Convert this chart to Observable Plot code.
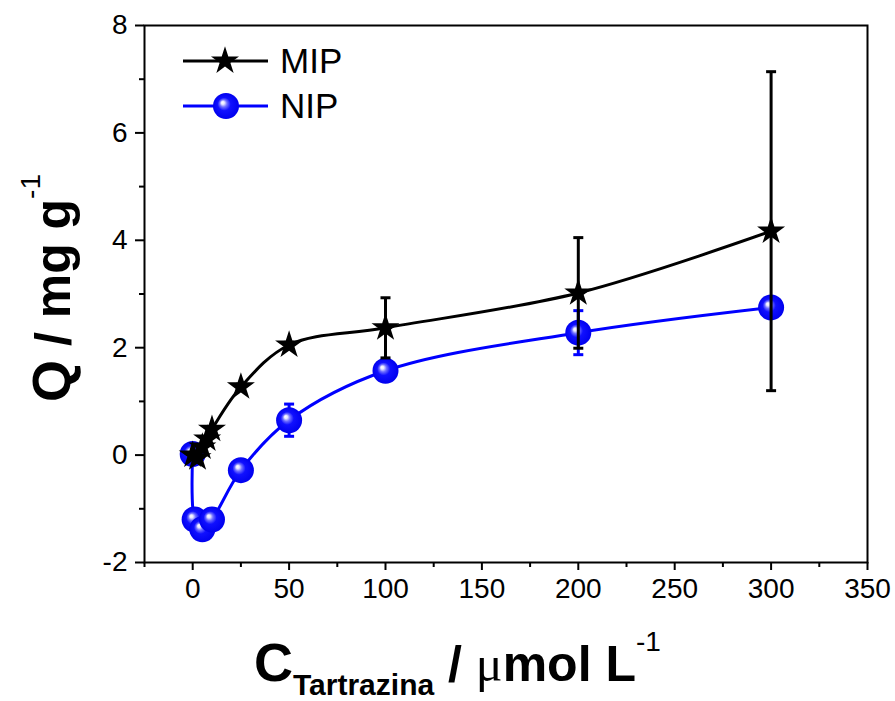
<!DOCTYPE html>
<html><head><meta charset="utf-8">
<script src="https://cdn.jsdelivr.net/npm/d3@7"></script>
<script src="https://cdn.jsdelivr.net/npm/@observablehq/plot@0.6"></script>
<style>
body{margin:0;background:#fff}
#chart{position:relative;width:895px;height:701px}
#chart svg text.tick-lbl{font-size:28px !important;}
</style>
</head><body><div id="chart"></div>
<script>
// ---- data ----
const mipX   = [0, 2.5, 5, 7.5, 10, 25, 50, 100, 200, 300];
const mipQ   = [0, -0.05, 0.15, 0.3, 0.48, 1.27, 2.05, 2.37, 3.02, 4.17];
const mipErr = [0, 0, 0, 0, 0, 0.05, 0.05, 0.56, 1.03, 2.97];

const nipX   = [0, 1, 5, 10, 25, 50, 100, 200, 300];
const nipQ   = [0.02, -1.2, -1.38, -1.2, -0.28, 0.65, 1.57, 2.28, 2.75];
const nipErr = [0, 0, 0, 0, 0.1, 0.3, 0.05, 0.41, 0];

const xMajor = [0, 50, 100, 150, 200, 250, 300, 350];
const xMinor = [-25, 25, 75, 125, 175, 225, 275, 325];
const yMajor = [-2, 0, 2, 4, 6, 8];
const yMinor = [-1, 1, 3, 5, 7];

const seriesNames = ["MIP", "NIP"];
const colors = {MIP: "#000000", NIP: "#0000ff"};

const mip = mipX.map((x, i) => ({x, q: mipQ[i], e: mipErr[i]}));
const nip = nipX.map((x, i) => ({x, q: nipQ[i], e: nipErr[i]}));

const cap = {draw(ctx) { ctx.moveTo(-5, 0); ctx.lineTo(5, 0); }};
const FONT = "'Liberation Sans', Arial, sans-serif";

const plot = Plot.plot({
  width: 895, height: 701,
  marginLeft: 144, marginRight: 28, marginTop: 25, marginBottom: 139,
  style: {fontFamily: FONT, fontSize: "28px", color: "#000", background: "#fff"},
  x: {domain: [-25, 350]},
  y: {domain: [-2, 8]},
  marks: [
    Plot.axisX({ticks: xMajor, tickSize: 8, tickPadding: 8, tickFormat: d => String(d), label: null, strokeWidth: 2, fontSize: 28}),
    Plot.axisX({ticks: xMinor, tickSize: 5, tickFormat: () => "", label: null, strokeWidth: 2}),
    Plot.axisY({ticks: yMajor, tickSize: 9, tickPadding: 8, tickFormat: d => String(d), label: null, strokeWidth: 2, fontSize: 28}),
    Plot.axisY({ticks: yMinor, tickSize: 5, tickFormat: () => "", label: null, strokeWidth: 2}),
    // NIP
    Plot.line(nip, {x: "x", y: "q", stroke: colors.NIP, strokeWidth: 3, curve: "catmull-rom"}),
    Plot.ruleX(nip.filter(d => d.e > 0), {x: "x", y1: d => d.q - d.e, y2: d => d.q + d.e, stroke: colors.NIP, strokeWidth: 3}),
    Plot.dot(nip.filter(d => d.e > 0), {x: "x", y: d => d.q + d.e, symbol: cap, stroke: colors.NIP, strokeWidth: 3, r: 5}),
    Plot.dot(nip.filter(d => d.e > 0), {x: "x", y: d => d.q - d.e, symbol: cap, stroke: colors.NIP, strokeWidth: 3, r: 5}),
    Plot.dot(nip, {x: "x", y: "q", r: 13, fill: "url(#ballGrad)", stroke: null}),
    // MIP
    Plot.line(mip, {x: "x", y: "q", stroke: colors.MIP, strokeWidth: 3, curve: "catmull-rom"}),
    Plot.ruleX(mip.filter(d => d.e > 0), {x: "x", y1: d => d.q - d.e, y2: d => d.q + d.e, stroke: colors.MIP, strokeWidth: 3}),
    Plot.dot(mip.filter(d => d.e > 0), {x: "x", y: d => d.q + d.e, symbol: cap, stroke: colors.MIP, strokeWidth: 3, r: 5}),
    Plot.dot(mip.filter(d => d.e > 0), {x: "x", y: d => d.q - d.e, symbol: cap, stroke: colors.MIP, strokeWidth: 3, r: 5}),
    Plot.dot(mip, {x: "x", y: "q", symbol: "star", r: 8.8, fill: colors.MIP, stroke: null}),
    Plot.frame({stroke: "#000", strokeWidth: 2})
  ]
});

const svg = d3.select(plot);
// all texts produced by Plot here are tick labels
svg.selectAll("text").classed("tick-lbl", true).attr("font-size", 28).style("font-size", "28px");

// gradient for the shaded balls
const defs = svg.insert("defs", ":first-child");
const g = defs.append("radialGradient").attr("id", "ballGrad")
  .attr("cx", "0.5").attr("cy", "0.5").attr("r", "0.5").attr("fx", "0.36").attr("fy", "0.36");
[["0%", "#ffffff"], ["12%", "#e8e8ff"], ["28%", "#7070ff"], ["50%", "#1010ff"], ["100%", "#0000ee"]]
  .forEach(([o, c]) => g.append("stop").attr("offset", o).attr("stop-color", c));

// legend
const leg = svg.append("g").attr("font-family", FONT).attr("font-size", 35).attr("text-anchor", "start");
const rows = [{name: seriesNames[0], y: 61}, {name: seriesNames[1], y: 106}];
rows.forEach(r => {
  leg.append("line").attr("x1", 183).attr("x2", 268).attr("y1", r.y).attr("y2", r.y)
    .attr("stroke", colors[r.name]).attr("stroke-width", 3);
  if (r.name === "MIP") {
    leg.append("path").attr("transform", `translate(225,${r.y})`)
      .attr("d", d3.symbol(d3.symbolStar, 8.8 * 8.8 * Math.PI)()).attr("fill", colors.MIP);
  } else {
    leg.append("circle").attr("cx", 226).attr("cy", r.y).attr("r", 13).attr("fill", "url(#ballGrad)");
  }
  leg.append("text").attr("x", 280).attr("y", r.y + 12).attr("fill", "#000").text(r.name);
});

// axis titles
const xt = svg.append("text").attr("x", 254).attr("y", 681).attr("text-anchor", "start")
  .attr("font-family", FONT).attr("font-weight", "bold").attr("fill", "#000");
xt.append("tspan").attr("font-size", 54).text("C");
xt.append("tspan").attr("font-size", 30).attr("dy", 14).text("Tartrazina");
xt.append("tspan").attr("font-size", 50).attr("dy", -14).text(" / ");
xt.append("tspan").attr("font-size", 50).attr("font-family", "'Liberation Serif', serif").attr("font-weight", "normal").text("μ");
xt.append("tspan").attr("font-size", 50).text("mol L");
xt.append("tspan").attr("font-size", 28).attr("font-weight", "normal").attr("dy", -30).text("-1");

const yt = svg.append("text").attr("transform", "translate(70,402) rotate(-90)").attr("text-anchor", "start")
  .attr("font-family", FONT).attr("font-weight", "bold").attr("fill", "#000");
yt.append("tspan").attr("font-size", 54).text("Q");
yt.append("tspan").attr("font-size", 50).text(" / mg g");
yt.append("tspan").attr("font-size", 28).attr("font-weight", "normal").attr("dy", -30).text("-1");

document.getElementById("chart").appendChild(plot);
</script>
</body></html>
